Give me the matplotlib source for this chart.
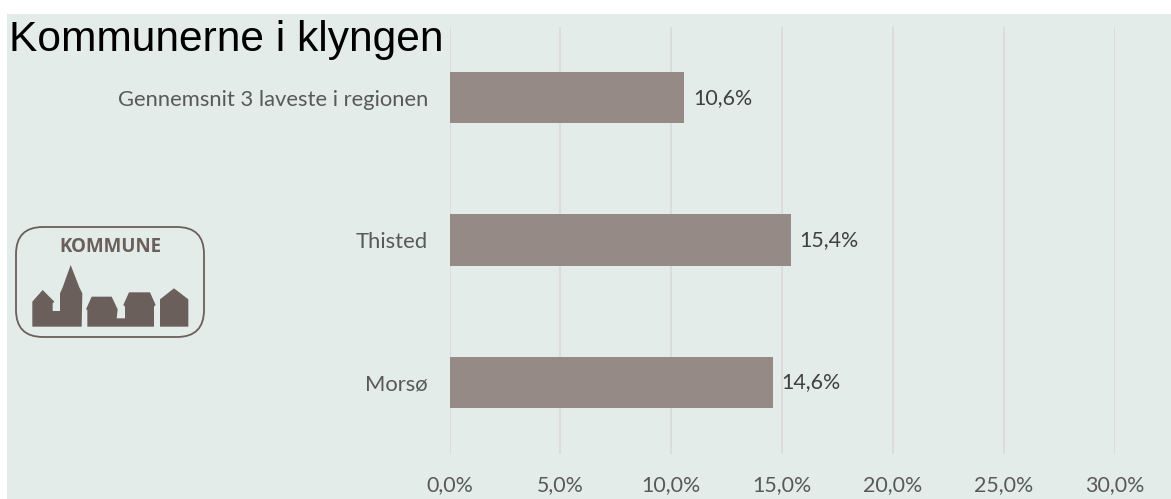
import matplotlib
matplotlib.use("Agg")
import matplotlib.pyplot as plt
from matplotlib.patches import FancyBboxPatch, Polygon, Rectangle

# data, top to bottom
kommuner = ["Gennemsnit 3 laveste i regionen", "Thisted", "Morsø"]
andele = [10.6, 15.4, 14.6]
x_ticks = [0, 5, 10, 15, 20, 25, 30]

W, H = 1171, 499
bg_col = "#e3ece9"
bar_col = "#968a87"
txt_col = "#595959"
logo_col = "#6b5f5c"


def danish(v):
    return f"{v:.1f}%".replace(".", ",")


fig = plt.figure(figsize=(W / 100, H / 100), dpi=100, facecolor="white")

# overlay in pixel coordinates for the panel, title and logo
bg = fig.add_axes([0, 0, 1, 1], zorder=0)
bg.set_xlim(0, W)
bg.set_ylim(H, 0)
bg.axis("off")
bg.add_patch(Rectangle((7, 14), W - 7, H - 14, facecolor=bg_col, edgecolor="none"))

# chart area: x=449..1114 px for 0..30, y=26..453 px
ax = fig.add_axes([449.5 / W, 1 - 453.5 / H, (1114.5 - 449.5) / W, (453.5 - 26.5) / H], zorder=1)
ax.patch.set_alpha(0)
y_pos = list(range(len(kommuner)))
ax.barh(y_pos, andele, height=0.36, color=bar_col, zorder=2)
ax.set_xlim(0, 30)
ax.set_ylim(len(kommuner) - 0.5, -0.5)
ax.set_xticks(x_ticks)
ax.set_xticklabels([danish(v) for v in x_ticks], fontsize=15.4, color=txt_col, family="Lato")
ax.set_yticks(y_pos)
ax.set_yticklabels(kommuner, fontsize=15.8, color=txt_col, family="Lato")
ax.tick_params(axis="both", length=0)
ax.tick_params(axis="x", pad=15.5)
ax.tick_params(axis="y", pad=15.5)
ax.grid(axis="x", color="#dcdcdc", linewidth=1.4, zorder=1)
for s in ax.spines.values():
    s.set_visible(False)

for y, v in zip(y_pos, andele):
    ax.text(v + 0.38, y, danish(v), va="center", ha="left", fontsize=15.4, color="#404040", family="Lato")

bg.text(9, 39.5, "Kommunerne i klyngen", fontsize=30.6, family="Liberation Sans", color="black",
        va="center", ha="left")

# kommune logo
bg.add_patch(FancyBboxPatch((16 + 27, 227 + 27), 188 - 54, 110 - 54, boxstyle="round,pad=27,rounding_size=27",
                            facecolor="none", edgecolor=logo_col, linewidth=1.3))
bg.text(110, 247, "KOMMUNE", fontsize=13.5, fontweight="bold", family="Open Sans", color=logo_col,
        ha="center", va="center")

church = [(97, 350), (97, 275), (128, 240), (163, 275), (158, 280), (158, 303), (180, 303), (180, 250),
          (188, 232), (212, 165), (238, 232), (247, 250), (245, 350)]
houses = [(262, 350), (262, 300), (258, 298), (275, 260), (335, 260), (353, 298), (350, 325), (375, 325),
          (375, 290), (370, 285), (387, 247), (450, 247), (467, 285), (462, 290), (462, 350)]
end_house = [(480, 350), (480, 268), (522, 235), (565, 268), (565, 350)]
for shape in (church, houses, end_house):
    bg.add_patch(Polygon([(x / 3, 210 + y / 3) for x, y in shape], closed=True, facecolor=logo_col, edgecolor="none"))

fig.savefig("out.png", dpi=100, facecolor=fig.get_facecolor())
